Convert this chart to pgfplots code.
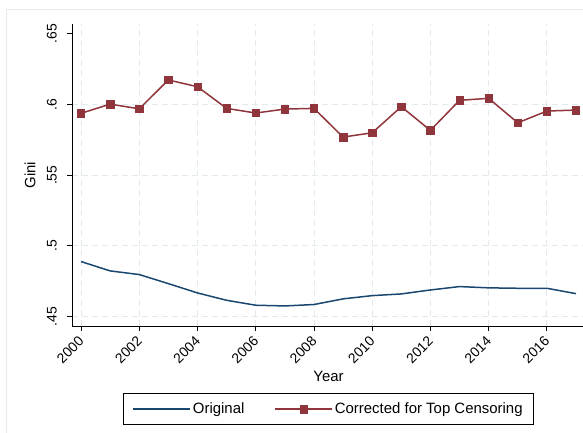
\documentclass[border=0pt]{standalone}
\usepackage{fontspec}
\setmainfont{Liberation Sans}
\usepackage{pgfplots}
\pgfplotsset{compat=1.18}
\definecolor{stnavy}{RGB}{26,71,111}
\definecolor{stmaroon}{RGB}{144,53,59}
\definecolor{stgrid}{RGB}{226,234,237}
\definecolor{stframe}{RGB}{228,234,238}
\newcommand{\lbl}{\fontsize{15}{18}\selectfont}
\newcommand{\tkl}{\fontsize{14}{16}\selectfont}
\begin{document}
\begin{tikzpicture}[x=1bp,y=1bp]
\useasboundingbox (-72,-106) rectangle (511,326);
\draw[stframe, line width=1bp] (-65,-110) -- (-65,317) -- (520,317);
\begin{axis}[
  at={(0,0)}, anchor=south west,
  scale only axis, width=513bp, height=302bp,
  xmin=1999.69, xmax=2017.31, ymin=0.4433, ymax=0.657,
  axis x line*=bottom, axis y line*=left,
  axis line style={black, line width=0.8bp, -},
  tick style={black, line width=0.8bp}, tick align=outside, major tick length=5bp,
  xtick={2000,2002,...,2016},
  /pgf/number format/assume math mode=true,
  x tick label style={/pgf/number format/1000 sep={}, yshift=-7bp, xshift=1bp, rotate=45, anchor=east, inner sep=1bp, font=\tkl},
  ytick={0.45,0.5,0.55,0.6}, yticklabels={.45,.5,.55,.6},
  extra y ticks={0.65}, extra y tick labels={.65}, extra y tick style={grid=none},
  y tick label style={rotate=90, anchor=south, inner xsep=1bp, inner ysep=10bp, font=\tkl},
  grid=major,
  major grid style={stgrid, dash pattern=on 6bp off 4bp, line width=0.8bp},
  xlabel={Year}, ylabel={Gini},
  xlabel style={at={(axis description cs:0.5,-0.168)}, anchor=center, font=\lbl},
  ylabel style={at={(axis description cs:-0.0819,0.5)}, anchor=center, font=\lbl},
  legend columns=2,
  legend style={at={(axis description cs:0.5,-0.2219)}, anchor=north, draw=black, line width=0.8bp,
    font=\lbl, inner xsep=9bp, inner ysep=7.5bp,
    /tikz/every even column/.append style={column sep=28bp}},
  legend image code/.code={\draw[mark repeat=2,mark phase=2,#1] plot coordinates {(0bp,0bp) (28.5bp,0bp) (57bp,0bp)};},
]
\addplot[stnavy, line width=1.5bp, no markers] coordinates {
(2000,0.4889) (2001,0.4823) (2002,0.4797) (2003,0.4733) (2004,0.4667) (2005,0.4615)
(2006,0.4580) (2007,0.4575) (2008,0.4585) (2009,0.4625) (2010,0.4648) (2011,0.4660)
(2012,0.4688) (2013,0.4712) (2014,0.4703) (2015,0.4700) (2016,0.4700) (2017,0.4662)};
\addlegendentry{Original}
\addplot[stmaroon, line width=1.5bp, mark=square*, mark size=3.7bp, mark options={fill=stmaroon, draw=stmaroon, line width=0.5bp}] coordinates {
(2000,0.5938) (2001,0.6003) (2002,0.5970) (2003,0.6174) (2004,0.6126) (2005,0.5973)
(2006,0.5940) (2007,0.5968) (2008,0.5973) (2009,0.5770) (2010,0.5800) (2011,0.5985)
(2012,0.5817) (2013,0.6030) (2014,0.6044) (2015,0.5871) (2016,0.5954) (2017,0.5961)};
\addlegendentry{Corrected for Top Censoring}
\end{axis}
\end{tikzpicture}
\end{document}
